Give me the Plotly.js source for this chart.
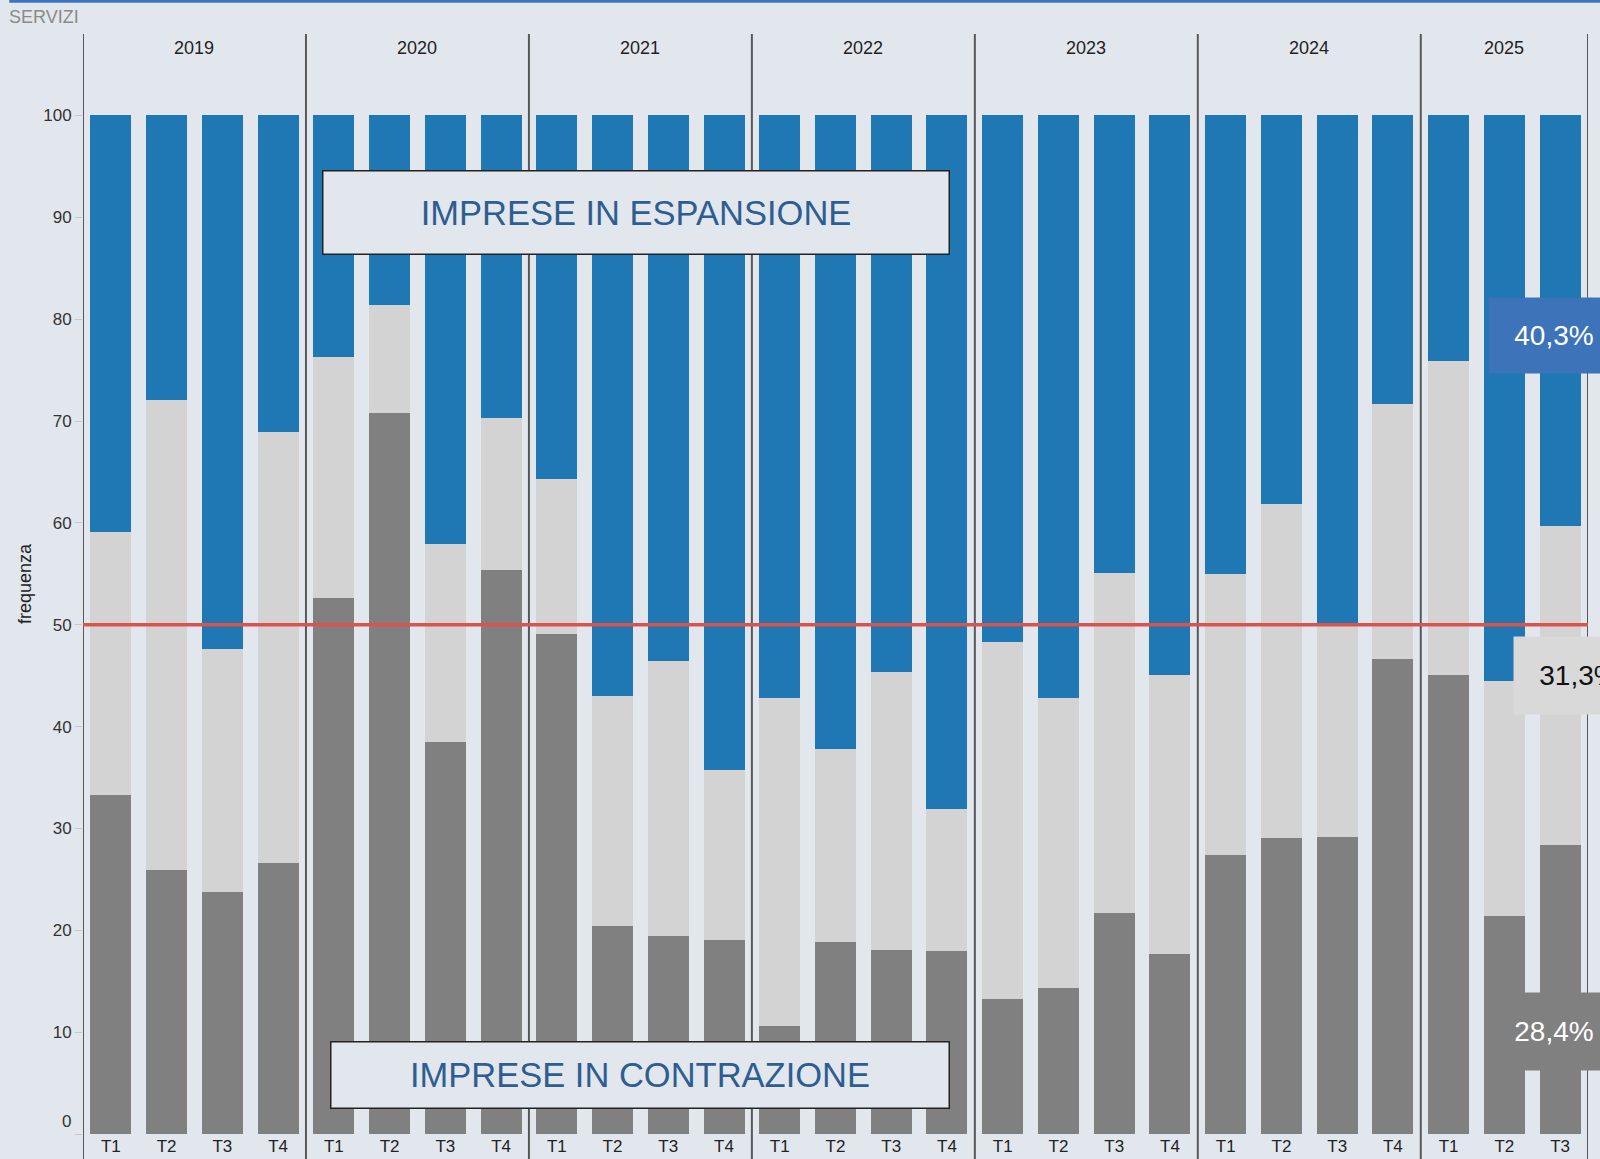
<!DOCTYPE html>
<html>
<head>
<meta charset="utf-8">
<script src="https://cdn.plot.ly/plotly-3.0.1.min.js"></script>
<style>
  html, body { margin: 0; padding: 0; background: #e2e7ee; }
  #chart { width: 1600px; height: 1159px; }
</style>
</head>
<body>
<div id="chart"></div>
<script>
// ---- data ----
const years = ['2019', '2020', '2021', '2022', '2023', '2024', '2025'];
const quartersPerYear = [4, 4, 4, 4, 4, 4, 3];
const quarterNames = ['T1', 'T2', 'T3', 'T4'];

// percentages (bottom -> top)
const contrazione = [33.3, 25.9, 23.8, 26.6,  52.6, 70.8, 38.5, 55.4,  49.1, 20.4, 19.4, 19.0,
                     10.6, 18.9, 18.1, 18.0,  13.3, 14.3, 21.7, 17.7,  27.4, 29.1, 29.2, 46.6,
                     45.1, 21.4, 28.4];
const stabile     = [25.8, 46.2, 23.8, 42.3,  23.7, 10.6, 19.4, 14.9,  15.2, 22.6, 27.0, 16.7,
                     32.2, 18.9, 27.3, 13.9,  35.0, 28.5, 33.4, 27.4,  27.6, 32.8, 20.9, 25.1,
                     30.8, 23.1, 31.3];
const espansione  = [40.9, 27.9, 52.4, 31.1,  23.7, 18.6, 42.1, 29.7,  35.7, 57.0, 53.6, 64.3,
                     57.2, 62.2, 54.6, 68.1,  51.7, 57.2, 44.9, 54.9,  45.0, 38.1, 49.9, 28.3,
                     24.1, 55.5, 40.3];

const lastLabels = ['40,3%', '31,3%', '28,4%'];
const threshold = 50;
const yTickVals = [0, 10, 20, 30, 40, 50, 60, 70, 80, 90, 100];

// ---- build categories ----
const xIdx = [];
const xText = [];
const groupStarts = [];
let k = 0;
years.forEach((y, i) => {
  groupStarts.push(k);
  for (let q = 0; q < quartersPerYear[i]; q++) {
    xIdx.push(k);
    xText.push(quarterNames[q]);
    k++;
  }
});
const nBars = k;

const BG = '#e2e7ee';
const FONT = 'Liberation Sans, Arial, Helvetica, sans-serif';

const traces = [
  { name: 'contrazione', y: contrazione, color: '#808080' },
  { name: 'stabile', y: stabile, color: '#d3d3d3' },
  { name: 'espansione', y: espansione, color: '#1f77b4' }
].map(s => ({
  type: 'bar',
  x: xIdx,
  y: s.y,
  name: s.name,
  marker: { color: s.color, line: { width: 0 } },
  showlegend: false,
  hoverinfo: 'y'
}));

// ---- shapes ----
const shapes = [];
const dividers = groupStarts.map(s => s - 0.5).concat([nBars - 0.5]);
dividers.forEach(xv => {
  shapes.push({
    type: 'line', xref: 'x', yref: 'paper',
    x0: xv, x1: xv, y0: -0.025, y1: 1,
    line: { color: '#585858', width: 2 },
    layer: 'above'
  });
});
shapes.push({
  type: 'line', xref: 'x', yref: 'y',
  x0: -0.5, x1: nBars - 0.5, y0: threshold, y1: threshold,
  line: { color: '#d9534f', width: 3.5 },
  layer: 'above'
});
// top blue rule
shapes.push({
  type: 'rect', xref: 'paper', yref: 'paper',
  x0: -0.049, x1: 1.01, y0: 1 + 31.3 / 1100, y1: 1 + 34.5 / 1100,
  fillcolor: '#3b74c1', line: { width: 0 }, layer: 'above'
});

// ---- annotations ----
const annotations = [];
years.forEach((y, i) => {
  const center = groupStarts[i] + (quartersPerYear[i] - 1) / 2;
  annotations.push({
    x: center, xref: 'x', y: 0.987, yref: 'paper',
    text: y, showarrow: false, xanchor: 'center', yanchor: 'middle',
    font: { size: 18, color: '#222222', family: FONT }
  });
});

// "0" tick label sits slightly above its tick in the reference
annotations.push({
  xref: 'paper', x: -0.0066, xanchor: 'right',
  yref: 'y', y: 1.2, yanchor: 'middle',
  text: String(yTickVals[0]), showarrow: false,
  font: { size: 17, color: '#333333', family: FONT }
});

annotations.push({
  xref: 'paper', x: 0.1586, xanchor: 'left',
  yref: 'y', y: 90.5, yanchor: 'middle',
  text: 'IMPRESE IN ESPANSIONE', showarrow: false,
  width: 623, height: 80, align: 'center', valign: 'middle',
  bgcolor: BG, bordercolor: '#222222', borderwidth: 1.5, borderpad: 1,
  font: { size: 34.5, color: '#2e5e91', family: FONT }
});
annotations.push({
  xref: 'paper', x: 0.1639, xanchor: 'left',
  yref: 'y', y: 5.79, yanchor: 'middle',
  text: 'IMPRESE IN CONTRAZIONE', showarrow: false,
  width: 615, height: 63, align: 'center', valign: 'middle',
  bgcolor: BG, bordercolor: '#222222', borderwidth: 1.5, borderpad: 1,
  font: { size: 34.5, color: '#2e5e91', family: FONT }
});

// last-period labels
annotations.push({
  xref: 'paper', x: 0.9334, xanchor: 'left', yref: 'y', y: 78.35, yanchor: 'middle',
  text: lastLabels[0], showarrow: false, width: 130, height: 75, borderpad: 0,
  bgcolor: '#3d73b8', font: { size: 28, color: '#ffffff', family: FONT }
});
annotations.push({
  xref: 'paper', x: 0.9500, xanchor: 'left', yref: 'y', y: 45.0, yanchor: 'middle',
  text: lastLabels[1], showarrow: false, width: 130, height: 77, borderpad: 0,
  bgcolor: '#d9d9d9', font: { size: 28, color: '#111111', family: FONT }
});
annotations.push({
  xref: 'paper', x: 0.9334, xanchor: 'left', yref: 'y', y: 10.06, yanchor: 'middle',
  text: lastLabels[2], showarrow: false, width: 130, height: 77, borderpad: 0,
  bgcolor: '#808080', font: { size: 28, color: '#ffffff', family: FONT }
});

const layout = {
  width: 1600, height: 1159,
  margin: { l: 83, r: 12, t: 34, b: 25, pad: 0 },
  paper_bgcolor: BG, plot_bgcolor: BG,
  font: { family: FONT, color: '#333333' },
  title: {
    text: 'SERVIZI', xref: 'container', yref: 'container',
    x: 9 / 1600, xanchor: 'left', y: 1 - 16.5 / 1159, yanchor: 'middle',
    font: { size: 18, color: '#8a8a8a', family: FONT }
  },
  barmode: 'stack',
  bargap: 0.264,
  xaxis: {
    type: 'linear', range: [-0.5, nBars - 0.5],
    tickmode: 'array', tickvals: xIdx, ticktext: xText,
    showgrid: false, zeroline: false, showline: false, ticks: '',
    tickfont: { size: 17, color: '#222222', family: FONT },
    fixedrange: true
  },
  yaxis: {
    range: [0, 108], tickmode: 'array', tickvals: yTickVals,
    ticktext: yTickVals.map((v, i) => (i === 0 ? '' : String(v))),
    showgrid: false, zeroline: false, showline: false,
    ticks: 'outside', ticklen: 7, tickcolor: '#c8c8c8', tickwidth: 1,
    tickfont: { size: 17, color: '#333333', family: FONT },
    title: { text: 'frequenza', standoff: 6, font: { size: 18, color: '#222222', family: FONT } },
    fixedrange: true
  },
  shapes: shapes,
  annotations: annotations
};

Plotly.newPlot('chart', traces, layout, { displayModeBar: false, staticPlot: true });
</script>
</body>
</html>
